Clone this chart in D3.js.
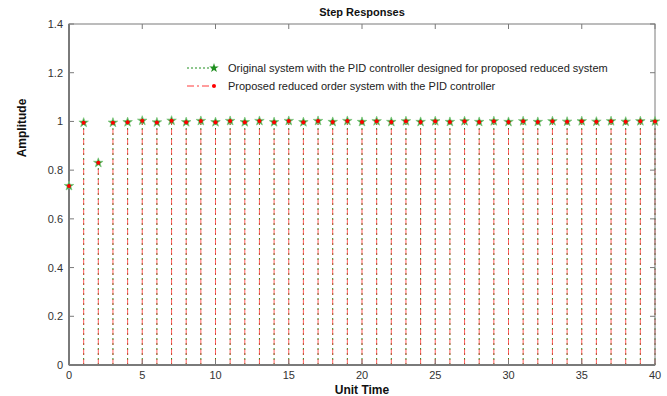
<!DOCTYPE html>
<html>
<head>
<meta charset="utf-8">
<script src="https://cdn.jsdelivr.net/npm/d3@7"></script>
<style>
  body { margin: 0; background: #fff; }
  svg text { font-family: "Liberation Sans", Arial, sans-serif; }
</style>
</head>
<body>
<div id="chart"></div>
<script>
// sample instants (unit time)
const times = [0, 1, 2, 3, 4, 5, 6, 7, 8, 9, 10, 11, 12, 13, 14, 15, 16, 17, 18, 19, 20,
  21, 22, 23, 24, 25, 26, 27, 28, 29, 30, 31, 32, 33, 34, 35, 36, 37, 38, 39, 40];

// original system with PID designed for reduced system
const originalResp = [0.735, 0.995, 0.83, 0.995, 0.997, 1.003, 0.996, 1.003, 0.997, 1.002, 0.997,
  1.002, 0.997, 1.002, 0.997, 1.002, 0.997, 1.002, 0.998, 1.002, 0.998,
  1.001, 0.998, 1.001, 0.998, 1.001, 0.998, 1.001, 0.998, 1.001, 0.998,
  1.001, 0.998, 1.001, 0.999, 1.001, 0.999, 1.001, 0.999, 1.001, 1.0];

// proposed reduced order system with PID
const reducedResp = [0.735, 0.995, 0.83, 0.995, 0.997, 1.003, 0.996, 1.003, 0.997, 1.002, 0.997,
  1.002, 0.997, 1.002, 0.997, 1.002, 0.997, 1.002, 0.998, 1.002, 0.998,
  1.001, 0.998, 1.001, 0.998, 1.001, 0.998, 1.001, 0.998, 1.001, 0.998,
  1.001, 0.998, 1.001, 0.999, 1.001, 0.999, 1.001, 0.999, 1.001, 1.0];

const xTicks = [0, 5, 10, 15, 20, 25, 30, 35, 40];
const yTicks = [0, 0.2, 0.4, 0.6, 0.8, 1, 1.2, 1.4];

const legendLabels = [
  "Original system with the PID controller designed for proposed reduced system",
  "Proposed reduced order system with the PID controller"
];

const width = 667, height = 396;
const margin = { top: 24, right: 12, bottom: 31, left: 69 };
const innerW = width - margin.left - margin.right;
const innerH = height - margin.top - margin.bottom;

const green = "#1f8f1f";
const red = "#ff3b3b";
const axisColor = "#7a7a7a";
const textColor = "#333";

const svg = d3.select("#chart").append("svg")
  .attr("width", width)
  .attr("height", height);

const x = d3.scaleLinear().domain([0, 40]).range([0, innerW]);
const y = d3.scaleLinear().domain([0, 1.4]).range([innerH, 0]);

const g = svg.append("g").attr("transform", `translate(${margin.left},${margin.top})`);

// stems: green dotted under red dashed
g.append("g")
  .selectAll("line")
  .data(times)
  .join("line")
  .attr("x1", d => x(d)).attr("x2", d => x(d))
  .attr("y1", y(0)).attr("y2", (d, i) => y(originalResp[i]))
  .attr("stroke", green)
  .attr("stroke-width", 1)
  .attr("stroke-dasharray", "2,3");

g.append("g")
  .selectAll("line")
  .data(times)
  .join("line")
  .attr("x1", d => x(d)).attr("x2", d => x(d))
  .attr("y1", y(0)).attr("y2", (d, i) => y(reducedResp[i]))
  .attr("stroke", red)
  .attr("stroke-opacity", 0.8)
  .attr("stroke-width", 1)
  .attr("stroke-dasharray", "6,4");

// axes box
const axisG = g.append("g");
axisG.append("rect")
  .attr("x", 0).attr("y", 0)
  .attr("width", innerW).attr("height", innerH)
  .attr("fill", "none")
  .attr("stroke", axisColor)
  .attr("stroke-width", 1);
axisG.append("line")
  .attr("x1", 0).attr("x2", 0).attr("y1", 0).attr("y2", innerH)
  .attr("stroke", axisColor).attr("stroke-width", 2);
axisG.append("line")
  .attr("x1", 0).attr("x2", innerW).attr("y1", innerH).attr("y2", innerH)
  .attr("stroke", axisColor).attr("stroke-width", 2);

const tickLen = 5;
// x ticks (bottom and top, inward)
xTicks.forEach(t => {
  axisG.append("line")
    .attr("x1", x(t)).attr("x2", x(t))
    .attr("y1", innerH).attr("y2", innerH - tickLen)
    .attr("stroke", axisColor);
  axisG.append("line")
    .attr("x1", x(t)).attr("x2", x(t))
    .attr("y1", 0).attr("y2", tickLen)
    .attr("stroke", axisColor);
  axisG.append("text")
    .attr("x", x(t)).attr("y", innerH + 14)
    .attr("text-anchor", "middle")
    .attr("font-size", 11)
    .attr("fill", textColor)
    .text(t);
});

// y ticks (left and right, inward)
yTicks.forEach(t => {
  axisG.append("line")
    .attr("x1", 0).attr("x2", tickLen)
    .attr("y1", y(t)).attr("y2", y(t))
    .attr("stroke", axisColor);
  axisG.append("line")
    .attr("x1", innerW).attr("x2", innerW - tickLen)
    .attr("y1", y(t)).attr("y2", y(t))
    .attr("stroke", axisColor);
  axisG.append("text")
    .attr("x", -6).attr("y", y(t) + 4)
    .attr("text-anchor", "end")
    .attr("font-size", 11)
    .attr("fill", textColor)
    .text(t);
});

// markers
const star = d3.symbol().type(d3.symbolStar).size(28);
g.append("g")
  .selectAll("path")
  .data(times)
  .join("path")
  .attr("transform", (d, i) => `translate(${x(d)},${y(originalResp[i])})`)
  .attr("d", star)
  .attr("fill", green)
  .attr("stroke", "#7fc77f")
  .attr("stroke-width", 0.8);

g.append("g")
  .selectAll("circle")
  .data(times)
  .join("circle")
  .attr("cx", d => x(d))
  .attr("cy", (d, i) => y(reducedResp[i]))
  .attr("r", 2)
  .attr("fill", "#ff0000");

// title and labels
svg.append("text")
  .attr("x", 362).attr("y", 16)
  .attr("text-anchor", "middle")
  .attr("font-size", 11)
  .attr("font-weight", "bold")
  .attr("fill", "#111")
  .text("Step Responses");

svg.append("text")
  .attr("x", 362).attr("y", 394)
  .attr("text-anchor", "middle")
  .attr("font-size", 12)
  .attr("font-weight", "bold")
  .attr("fill", "#111")
  .text("Unit Time");

svg.append("text")
  .attr("transform", "translate(26,128) rotate(-90)")
  .attr("text-anchor", "middle")
  .attr("font-size", 12)
  .attr("font-weight", "bold")
  .attr("fill", "#111")
  .text("Amplitude");

// legend
const leg = svg.append("g").attr("transform", "translate(187,68)");
const legRows = leg.selectAll("g")
  .data(legendLabels)
  .join("g")
  .attr("transform", (d, i) => `translate(0,${i * 18})`);

legRows.append("line")
  .attr("x1", 0).attr("x2", 27).attr("y1", 0).attr("y2", 0)
  .attr("stroke", (d, i) => i === 0 ? green : red)
  .attr("stroke-width", 1)
  .attr("stroke-dasharray", (d, i) => i === 0 ? "2,2" : "7,3,2,3");

legRows.filter((d, i) => i === 0).append("path")
  .attr("transform", "translate(27,0)")
  .attr("d", star)
  .attr("fill", green);

legRows.filter((d, i) => i === 1).append("circle")
  .attr("cx", 27).attr("cy", 0).attr("r", 2)
  .attr("fill", "#ff0000");

legRows.append("text")
  .attr("x", 41).attr("y", 4)
  .attr("font-size", 11)
  .attr("fill", "#222")
  .text(d => d);
</script>
</body>
</html>
